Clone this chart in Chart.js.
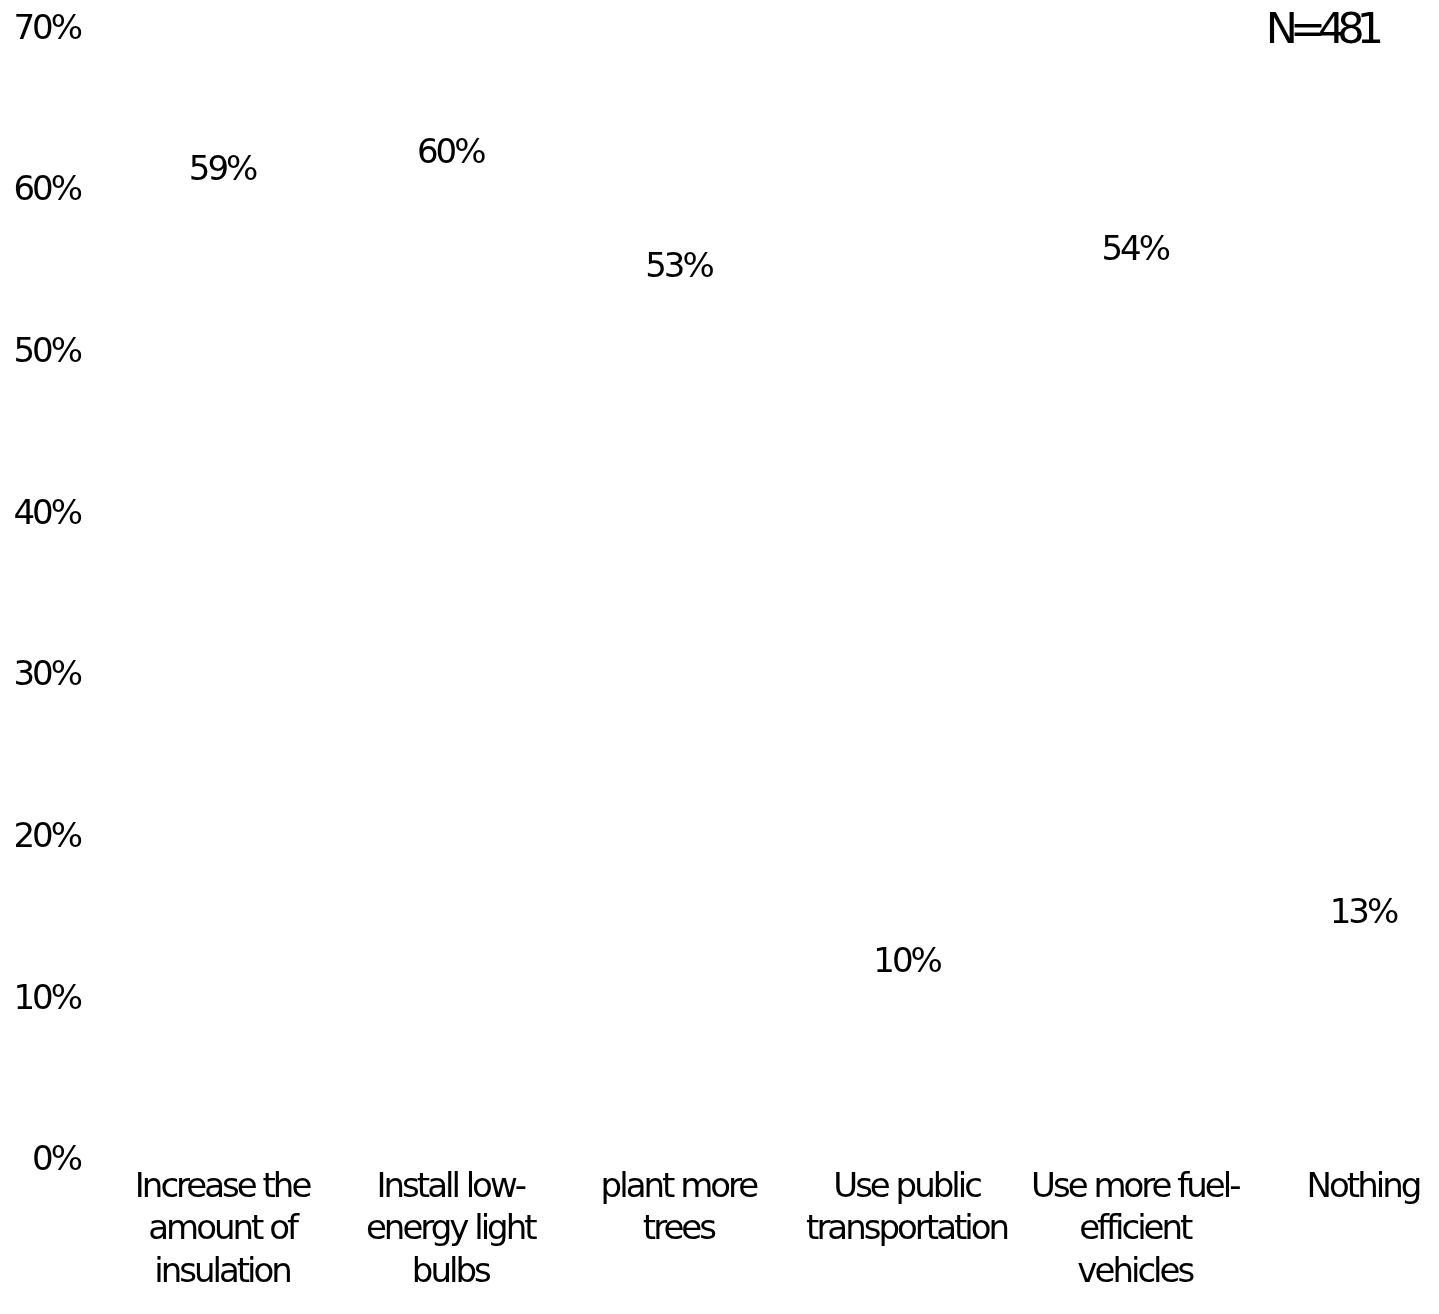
<!DOCTYPE html>
<html>
<head>
<meta charset="utf-8">
<script src="https://cdn.jsdelivr.net/npm/chart.js@4.4.0/dist/chart.umd.min.js"></script>
<style>
  html, body { margin: 0; padding: 0; background: #fff; }
  #wrap { width: 1439px; height: 1314px; overflow: hidden; }
  canvas { display: block; }
</style>
</head>
<body>
<div id="wrap"><canvas id="myChart" width="1490" height="1314"></canvas></div>
<script>
const categories = [
  ['Increase the', 'amount of', 'insulation'],
  ['Install low-', 'energy light', 'bulbs'],
  ['plant more', 'trees'],
  ['Use public', 'transportation'],
  ['Use more fuel-', 'efficient', 'vehicles'],
  ['Nothing']
];
const shares = [59, 60, 53, 10, 54, 13];
const sampleNote = 'N=481';

const FONT = '"DejaVu Sans", sans-serif';
const TRACK = '-3px';

// tight tracking on all text
const tracking = {
  id: 'tracking',
  beforeUpdate(chart) { chart.ctx.letterSpacing = TRACK; },
  beforeDraw(chart) { chart.ctx.letterSpacing = TRACK; }
};

// percent labels above each bar, plus sample size in the corner
const valueLabels = {
  id: 'valueLabels',
  afterDatasetsDraw(chart) {
    const ctx = chart.ctx;
    const meta = chart.getDatasetMeta(0);
    ctx.save();
    ctx.letterSpacing = TRACK;
    ctx.fillStyle = '#000';
    ctx.font = '34px ' + FONT;
    ctx.textAlign = 'center';
    ctx.textBaseline = 'middle';
    meta.data.forEach((bar, i) => {
      ctx.fillText(shares[i] + '%', bar.x, bar.y - 37);
    });
    ctx.font = '43px ' + FONT;
    ctx.letterSpacing = '-8px';
    ctx.textAlign = 'right';
    ctx.fillText(sampleNote, 1376, 32);
    ctx.restore();
  }
};

const config = {
  type: 'bar',
  data: {
    labels: categories,
    datasets: [{
      data: shares,
      backgroundColor: 'rgba(255,255,255,0)',
      borderWidth: 0
    }]
  },
  options: {
    responsive: false,
    animation: false,
    layout: { padding: { left: 13, right: 13, top: 30, bottom: 15 } },
    plugins: { legend: { display: false }, tooltip: { enabled: false } },
    scales: {
      x: {
        grid: { display: false, drawTicks: false },
        border: { display: false },
        ticks: {
          color: '#000',
          padding: 5,
          maxRotation: 0,
          autoSkip: false,
          font: { family: FONT, size: 34, lineHeight: 1.25 }
        }
      },
      y: {
        min: 0,
        max: 70,
        grid: { display: false, drawTicks: false },
        border: { display: false },
        afterFit(scale) {
          scale.width = 95;
          scale.paddingTop = 0;
          scale.paddingBottom = 0;
        },
        ticks: {
          stepSize: 10,
          color: '#000',
          padding: 28,
          font: { family: FONT, size: 34 },
          callback: v => v + '%'
        }
      }
    }
  },
  plugins: [tracking, valueLabels]
};

new Chart(document.getElementById('myChart').getContext('2d'), config);
</script>
</body>
</html>
